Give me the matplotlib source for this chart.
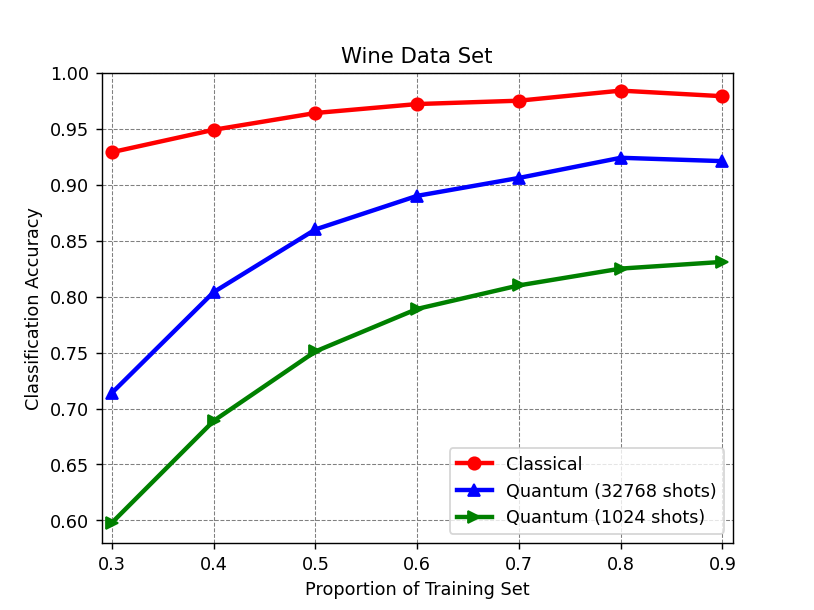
import matplotlib
matplotlib.use("Agg")
import matplotlib.pyplot as plt

# proportion of the wine data used for training
train_props = [0.3, 0.4, 0.5, 0.6, 0.7, 0.8, 0.9]

acc_classical = [0.929, 0.949, 0.964, 0.972, 0.975, 0.984, 0.979]
acc_q32768 = [0.714, 0.804, 0.860, 0.890, 0.906, 0.924, 0.921]
acc_q1024 = [0.598, 0.689, 0.751, 0.789, 0.810, 0.825, 0.831]

fig, ax = plt.subplots(figsize=(6.4, 4.8), dpi=127.2)

ax.plot(train_props, acc_classical, color="red", marker="o", linewidth=2.5,
        markersize=7, label="Classical")
ax.plot(train_props, acc_q32768, color="blue", marker="^", linewidth=2.5,
        markersize=7, label="Quantum (32768 shots)")
ax.plot(train_props, acc_q1024, color="green", marker=">", linewidth=2.5,
        markersize=7, label="Quantum (1024 shots)")

ax.set_xlim(0.29, 0.91)
ax.set_ylim(0.58, 1.0)
ax.set_xticks(train_props)
ax.set_title("Wine Data Set")
ax.set_xlabel("Proportion of Training Set")
ax.set_ylabel("Classification Accuracy")
ax.grid(True, linestyle="--", color="gray", linewidth=0.6)
ax.legend(loc="lower right")

fig.savefig("out.png", dpi=127.2)
